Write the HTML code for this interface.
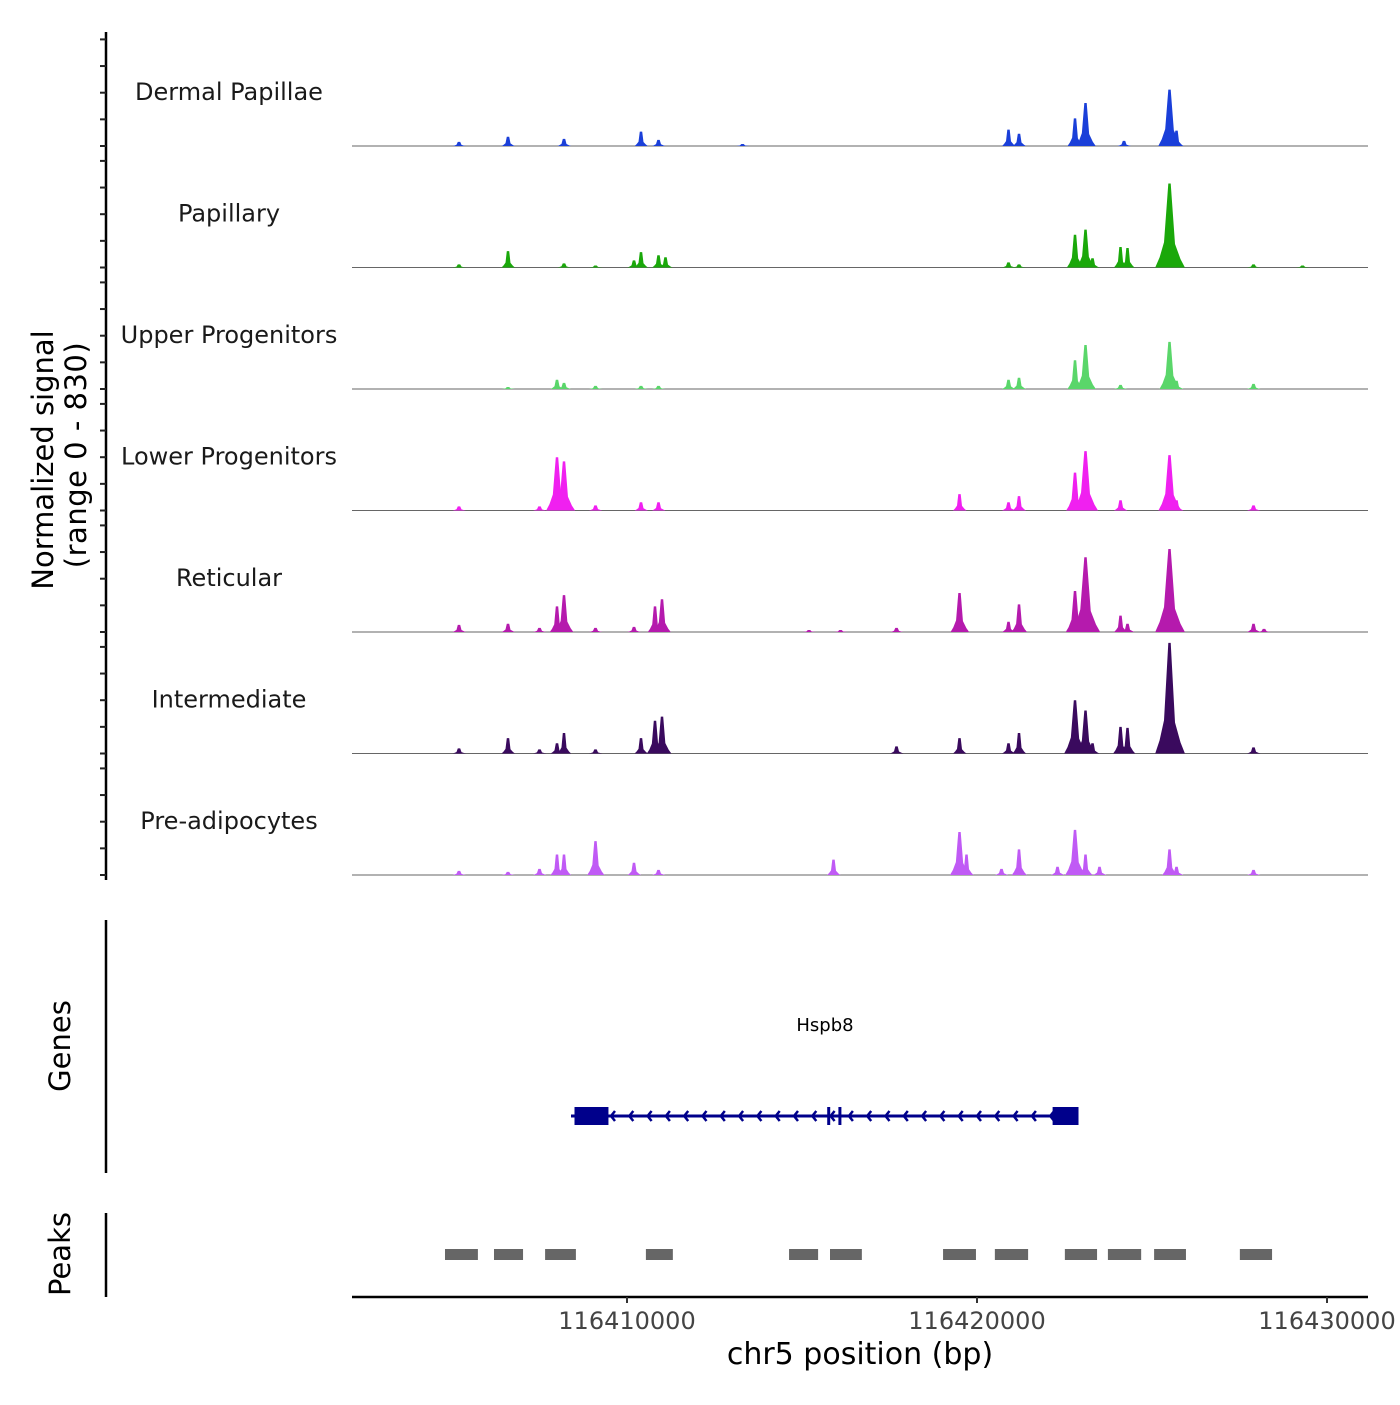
<!DOCTYPE html>
<html><head><meta charset="utf-8"><style>
body{margin:0;background:#fff}
svg text{font-family:"DejaVu Sans","Liberation Sans",sans-serif}
</style></head><body>
<svg id="c" width="1400" height="1400" viewBox="0 0 1400 1400" xmlns="http://www.w3.org/2000/svg">
<g id="axes"></g><g id="tracks"></g><g id="genes"></g><g id="peaks"></g>
</svg>
<script>
const trackNames=["Dermal Papillae","Papillary","Upper Progenitors","Lower Progenitors","Reticular","Intermediate","Pre-adipocytes"];
const trackColors=["#1a3fd9","#1aa80a","#5ad66a","#f020f0","#b51aad","#3a0a5e","#c05af5"];
// peaks per track: [position kb, signal]
const dermalPapillae=[[116405.2,28],[116406.6,63],[116408.2,49],[116410.4,98],[116410.9,42],[116413.3,14],[116420.9,112],[116421.2,84],[116422.8,189],[116423.1,294],[116424.2,35],[116425.5,385],[116425.7,105]];
const papillary=[[116405.2,21],[116406.6,112],[116408.2,28],[116409.1,14],[116410.2,49],[116410.4,105],[116410.9,84],[116411.1,70],[116420.9,35],[116421.2,21],[116422.8,224],[116423.1,259],[116423.3,63],[116424.1,140],[116424.3,133],[116425.5,574],[116425.7,105],[116427.9,21],[116429.3,14]];
const upperProgenitors=[[116406.6,14],[116408.0,63],[116408.2,42],[116409.1,21],[116410.4,21],[116410.9,21],[116420.9,63],[116421.2,77],[116422.8,196],[116423.1,301],[116424.1,28],[116425.5,322],[116425.7,56],[116427.9,35]];
const lowerProgenitors=[[116405.2,28],[116407.5,28],[116408.0,364],[116408.2,336],[116409.1,35],[116410.4,56],[116410.9,56],[116419.5,112],[116420.9,56],[116421.2,98],[116422.8,259],[116423.1,406],[116424.1,70],[116425.5,378],[116425.7,70],[116427.9,35]];
const reticular=[[116405.2,49],[116406.6,56],[116407.5,28],[116408.0,175],[116408.2,252],[116409.1,28],[116410.2,35],[116410.8,175],[116411.0,224],[116415.2,14],[116416.1,14],[116417.7,28],[116419.5,266],[116420.9,70],[116421.2,189],[116422.8,280],[116423.1,511],[116424.1,112],[116424.3,56],[116425.5,567],[116425.7,105],[116427.9,56],[116428.2,21]];
const intermediate=[[116405.2,35],[116406.6,105],[116407.5,28],[116408.0,70],[116408.2,140],[116409.1,28],[116410.4,105],[116410.8,224],[116411.0,252],[116417.7,49],[116419.5,105],[116420.9,70],[116421.2,140],[116422.8,364],[116423.1,294],[116423.3,70],[116424.1,182],[116424.3,175],[116425.5,756],[116425.7,105],[116427.9,42]];
const preAdipocytes=[[116405.2,28],[116406.6,21],[116407.5,42],[116408.0,140],[116408.2,140],[116409.1,231],[116410.2,84],[116410.9,35],[116415.9,105],[116419.5,294],[116419.7,140],[116420.7,42],[116421.2,175],[116422.3,56],[116422.8,308],[116423.1,140],[116423.5,56],[116425.5,175],[116425.7,56],[116427.9,35]];
const trackData=[dermalPapillae,papillary,upperProgenitors,lowerProgenitors,reticular,intermediate,preAdipocytes];
const peakRegions=[[116404.8,116405.74],[116406.2,116407.03],[116407.66,116408.54],[116410.54,116411.31],[116414.63,116415.46],[116415.8,116416.71],[116419.03,116419.97],[116420.51,116421.46],[116422.51,116423.43],[116423.74,116424.69],[116425.06,116425.97],[116427.51,116428.43]];
const geneStart=116408.4, geneEnd=116422.8;
const geneExons=[[116408.5,116409.47],[116415.72,116415.78],[116416.04,116416.12],[116422.16,116422.9]];
const xTicks=[116410,116420,116430];
const xTickLabels=["116410000","116420000","116430000"];
const yTickValues=[0,200,400,600,800];
const yMax=830;

const NS="http://www.w3.org/2000/svg";
const X0=352,X1=1368,K0=116402.143,K1=116431.171;
const xs=k=>X0+(k-K0)/(K1-K0)*(X1-X0);
const TH=121.5, base0=146, tickScale=26.65/200;
function mk(tag,attrs,parent,text){const e=document.createElementNS(NS,tag);for(const k in attrs)e.setAttribute(k,attrs[k]);if(text!==undefined)e.textContent=text;parent.appendChild(e);return e;}
const axes=document.getElementById('axes'),tracks=document.getElementById('tracks'),genes=document.getElementById('genes'),peaks=document.getElementById('peaks');

// left axis
let l=mk('line',{x1:106,y1:32,x2:106,y2:880,stroke:'#000','stroke-width':2.5},axes);


for(let i=0;i<7;i++){const b=base0+i*TH;yTickValues.forEach(v=>{const y=b-v*tickScale;const t=mk('line',{x1:100,y1:y,x2:106,y2:y,stroke:'#222','stroke-width':2},axes);});}
let yl=mk('text',{x:0,y:0,transform:'translate(53,460) rotate(-90)','text-anchor':'middle','font-size':29,fill:'#000'},axes,'Normalized signal');


let yl2=mk('text',{x:0,y:0,transform:'translate(86,455) rotate(-90)','text-anchor':'middle','font-size':29,fill:'#000','letter-spacing':'0.5'},axes,'(range 0 - 830)');



// tracks
trackData.forEach((pk,i)=>{
  const b=base0+i*TH, g=mk('g',{},tracks);
  
  
  const lab=mk('text',{x:229,y:b-46,'text-anchor':'middle','font-size':24,fill:'#1a1a1a'},g,trackNames[i]);
  
  
  const bl=mk('line',{x1:X0,y1:b,x2:X1,y2:b,stroke:'#666','stroke-width':1},g);
  
  
  pk.forEach(p=>{
    const cx=xs(p[0]),h=p[1]/yMax*TH,w=Math.max(5,Math.min(11,3+h*0.1));
    const d=`M${cx-w*1.3},${b} L${cx-w*0.9},${b-h*0.12} L${cx-w*0.5},${b-h*0.3} L${cx-1.2},${b-h} L${cx+1.2},${b-h} L${cx+w*0.5},${b-h*0.28} L${cx+w},${b-h*0.1} L${cx+w*1.4},${b} Z`;
    const pth=mk('path',{d:d,fill:trackColors[i]},g);
    
    
  });
});

// genes
let gl=mk('line',{x1:106,y1:920,x2:106,y2:1173,stroke:'#000','stroke-width':2.5},genes);


let gt=mk('text',{x:0,y:0,transform:'translate(70,1046) rotate(-90)','text-anchor':'middle','font-size':29,fill:'#000'},genes,'Genes');


let gn=mk('text',{x:825,y:1031,'text-anchor':'middle','font-size':18,fill:'#000'},genes,'Hspb8');


let gline=mk('line',{x1:xs(geneStart),y1:1116,x2:xs(geneEnd),y2:1116,stroke:'#00008b','stroke-width':3},genes);


for(let x=xs(geneStart)+40;x<xs(geneEnd)-20;x+=18.3){const a=mk('path',{d:`M${x+4},${1111} L${x},${1116} L${x+4},${1121}`,stroke:'#00008b','stroke-width':2.5,fill:'none'},genes);}
geneExons.forEach(e=>{const x=xs(e[0]),w=Math.max(3,xs(e[1])-x);const r=mk('rect',{x:x,y:1107,width:w,height:18,fill:'#00008b'},genes);});

// peaks
let pl=mk('line',{x1:106,y1:1213,x2:106,y2:1297,stroke:'#000','stroke-width':2.5},peaks);


let ptt=mk('text',{x:0,y:0,transform:'translate(70,1254) rotate(-90)','text-anchor':'middle','font-size':29,fill:'#000'},peaks,'Peaks');


peakRegions.forEach(r=>{const x=xs(r[0]);const rc=mk('rect',{x:x,y:1249,width:xs(r[1])-x,height:11,fill:'#666'},peaks);});

// x axis
let xa=mk('line',{x1:X0,y1:1297,x2:X1,y2:1297,stroke:'#000','stroke-width':2.5},axes);


xTicks.forEach((t,i)=>{
  const x=xs(t);
  const tk=mk('line',{x1:x,y1:1297,x2:x,y2:1303,stroke:'#333','stroke-width':2},axes);
  
  
  const tl=mk('text',{x:x,y:1329,'text-anchor':'middle','font-size':24,fill:'#444'},axes,xTickLabels[i]);
  
  
});
let xt=mk('text',{x:860,y:1364,'text-anchor':'middle','font-size':30,fill:'#000'},axes,'chr5 position (bp)');


</script>
</body></html>
